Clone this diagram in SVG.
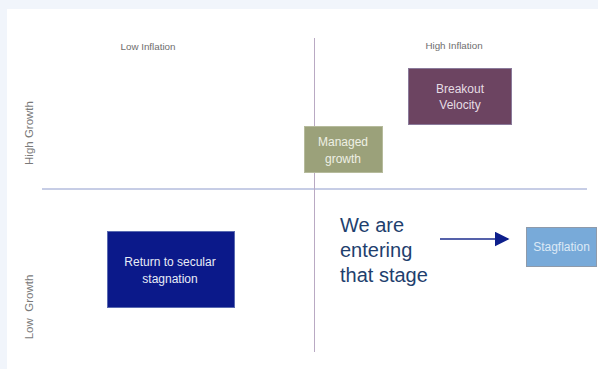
<svg xmlns="http://www.w3.org/2000/svg" width="598" height="369" viewBox="0 0 598 369">
  <defs>
    <style>
      .axis-label { font-family: "Liberation Sans", Arial, sans-serif; font-size: 9.8px; fill: #6e6e6e; text-anchor: middle; }
      .axis-label.side { font-size: 11.5px; fill: #7a7a7a; }
      .box-label { font-family: "Liberation Sans", Arial, sans-serif; font-size: 12px; text-anchor: middle; }
      .note { font-family: "Liberation Sans", Arial, sans-serif; font-size: 20px; fill: #1f3f6e; }
    </style>
    <marker id="arrowhead" viewBox="0 0 10 10" refX="9" refY="5" markerWidth="15" markerHeight="15" orient="auto" markerUnits="userSpaceOnUse">
      <path d="M0,0 L10,5 L0,10 z" fill="#0d1f8c"/>
    </marker>
  </defs>

  <!-- page backdrop and slide area -->
  <rect x="0" y="0" width="598" height="369" fill="#f1f5fb"/>
  <rect x="7" y="9" width="591" height="360" fill="#ffffff"/>

  <!-- quadrant axes -->
  <g id="axes">
    <line x1="42" y1="189" x2="587" y2="189" stroke="#8e9bcc" stroke-width="1"/>
    <line x1="314.5" y1="38" x2="314.5" y2="352" stroke="#b9a9c3" stroke-width="1"/>
  </g>

  <!-- axis captions -->
  <g id="axis-labels">
    <text class="axis-label" x="148" y="50">Low Inflation</text>
    <text class="axis-label" x="454" y="49">High Inflation</text>
    <text class="axis-label side" transform="translate(33,133) rotate(-90)">High Growth</text>
    <text class="axis-label side" transform="translate(33,307) rotate(-90)" xml:space="preserve">Low  Growth</text>
  </g>

  <g id="breakout-velocity">
    <rect x="408.5" y="68.5" width="103" height="56" fill="#6c4461" stroke="#8a7a9a" stroke-width="1"/>
    <text class="box-label" x="460" y="93" fill="#e6dde4">Breakout</text>
    <text class="box-label" x="460" y="109" fill="#e6dde4">Velocity</text>
  </g>

  <g id="managed-growth">
    <rect x="304.5" y="126.5" width="78" height="46" fill="#9ba17a" stroke="#b6bb9c" stroke-width="1"/>
    <text class="box-label" x="343" y="146" fill="#eef0e4">Managed</text>
    <text class="box-label" x="343" y="163" fill="#eef0e4">growth</text>
  </g>

  <g id="secular-stagnation">
    <rect x="107.5" y="231.5" width="127" height="76" fill="#0b198a" stroke="#5a6ab0" stroke-width="1"/>
    <text class="box-label" x="170" y="266" fill="#e8ecf6">Return to secular</text>
    <text class="box-label" x="170" y="283" fill="#e8ecf6">stagnation</text>
  </g>

  <g id="stagflation">
    <rect x="526.5" y="227.5" width="70" height="39" fill="#78aad9" stroke="#8e9aaa" stroke-width="1"/>
    <text class="box-label" x="561.5" y="251" fill="#dce9f6">Stagflation</text>
  </g>

  <g id="note">
    <text class="note" x="340" y="232">We are</text>
    <text class="note" x="340" y="257">entering</text>
    <text class="note" x="340" y="282">that stage</text>
  </g>

  <g id="connectors">
    <line x1="440" y1="239" x2="508" y2="239" stroke="#1c2d8e" stroke-width="1.4" marker-end="url(#arrowhead)"/>
  </g>
</svg>
